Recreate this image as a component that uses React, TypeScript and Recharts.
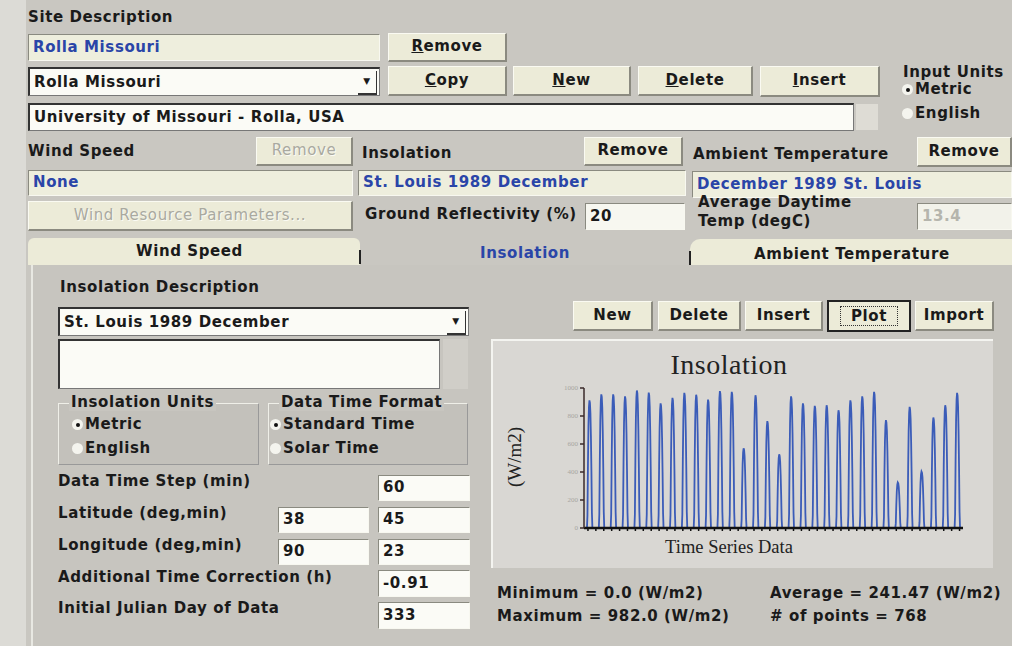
import React from "react";
import { LineChart, Line, XAxis, YAxis } from "recharts";

// daily peak insolation (W/m2), 32 days of December 1989
const dailyPeak = [
  912, 955, 955, 940, 982, 967, 890, 930, 965, 952, 917, 978, 972, 569, 948, 763,
  526, 940, 890, 872, 877, 841, 912, 940, 972, 770, 325, 865, 403, 789, 877, 965,
];
// typical hourly profile of one day (fraction of the day's peak), hours 0..23
const dayShape = [
  0, 0, 0, 0, 0, 0, 0, 0.1, 0.5, 0.8, 0.95, 1, 0.98, 0.9, 0.72, 0.45, 0.12, 0, 0,
  0, 0, 0, 0, 0,
];
const yTicks = [0, 200, 400, 600, 800, 1000];

const data = dailyPeak.flatMap((peak, d) =>
  dayShape.map((f, h) => ({ i: d * 24 + h, value: Math.round(peak * f) }))
);

const FONT = '"DejaVu Sans", Verdana, sans-serif';
const SERIF = '"Liberation Serif", "DejaVu Serif", serif';
const BG = "#c9c7c1";
const CREAM = "#ecebd8";
const FIELD = "#eeeedd";
const BLUE = "#2a45a8";

type Box = { x: number; y: number; w: number; h: number };

const txt: React.CSSProperties = {
  fontFamily: FONT,
  fontWeight: 700,
  fontSize: 15,
  letterSpacing: 0.6,
  whiteSpace: "nowrap",
  color: "#1a1a1a",
};

function Label({ x, y, children, color }: { x: number; y: number; children: React.ReactNode; color?: string }) {
  return <div style={{ ...txt, position: "absolute", left: x, top: y, color: color ?? "#1a1a1a" }}>{children}</div>;
}

function Field({ x, y, w, h, text, color, bg, dark, combo }: Box & { text?: string; color?: string; bg?: string; dark?: boolean; combo?: boolean }) {
  return (
    <div
      style={{
        ...txt,
        position: "absolute",
        left: x,
        top: y,
        width: w,
        height: h,
        boxSizing: "border-box",
        background: bg ?? FIELD,
        color: color ?? "#1a1a1a",
        borderTop: dark ? "2px solid #333" : "1px solid #8a8a80",
        borderLeft: dark ? "2px solid #333" : "1px solid #8a8a80",
        borderBottom: dark ? "1px solid #777" : "1px solid #f8f8f0",
        borderRight: dark ? "1px solid #777" : "1px solid #f8f8f0",
        paddingLeft: 4,
        lineHeight: `${h - 3}px`,
        overflow: "hidden",
      }}
    >
      {text}
      {combo && (
        <div
          style={{
            position: "absolute",
            right: 2,
            top: 2,
            width: 18,
            height: h - 7,
            borderBottom: "2px solid #333",
            borderRight: "1px solid #333",
            fontSize: 9,
            lineHeight: `${h - 8}px`,
            textAlign: "center",
          }}
        >
          ▼
        </div>
      )}
    </div>
  );
}

function Btn({ x, y, w, h, text, u, disabled, focus }: Box & { text: string; u?: boolean; disabled?: boolean; focus?: boolean }) {
  return (
    <div
      style={{
        ...txt,
        position: "absolute",
        left: x,
        top: y,
        width: w,
        height: h,
        boxSizing: "border-box",
        background: CREAM,
        borderTop: focus ? "2px solid #222" : "1px solid #fafaf2",
        borderLeft: focus ? "2px solid #222" : "1px solid #fafaf2",
        borderBottom: focus ? "2px solid #222" : "2px solid #8b8a80",
        borderRight: focus ? "2px solid #222" : "2px solid #8b8a80",
        textAlign: "center",
        lineHeight: `${h - 4}px`,
        color: disabled ? "#a9a9a0" : "#1a1a1a",
        fontWeight: disabled ? 400 : 700,
        textShadow: disabled ? "1px 1px 0 #fbfbf4" : undefined,
      }}
    >
      {focus ? (
        <span style={{ border: "1px dotted #333", padding: "0 10px" }}>{text}</span>
      ) : u ? (
        <>
          <span style={{ textDecoration: "underline" }}>{text[0]}</span>
          {text.slice(1)}
        </>
      ) : (
        text
      )}
    </div>
  );
}

function Radio({ x, y, text, on }: { x: number; y: number; text: string; on?: boolean }) {
  return (
    <div style={{ ...txt, position: "absolute", left: x, top: y }}>
      <span
        style={{
          display: "inline-block",
          width: 11,
          height: 11,
          borderRadius: 6,
          background: "#f4f4ee",
          marginRight: 2,
          verticalAlign: -1,
          position: "relative",
        }}
      >
        {on && (
          <span
            style={{ position: "absolute", left: 3.5, top: 3.5, width: 4, height: 4, borderRadius: 2, background: "#111" }}
          />
        )}
      </span>
      {text}
    </div>
  );
}

function Group({ x, y, w, h, title }: Box & { title: string }) {
  return (
    <div
      style={{
        position: "absolute",
        left: x,
        top: y,
        width: w,
        height: h,
        boxSizing: "border-box",
        borderTop: "1px solid #efefe8",
        borderLeft: "1px solid #efefe8",
        borderBottom: "1px solid #999",
        borderRight: "1px solid #999",
        background: "#c3c1bb",
      }}
    >
      <div style={{ ...txt, position: "absolute", left: 10, top: -11, background: "#c7c5bf", padding: "0 2px" }}>{title}</div>
    </div>
  );
}

function InsolationChart() {
  return (
    <div
      style={{
        position: "absolute",
        left: 491,
        top: 339,
        width: 502,
        height: 229,
        background: "#d9d7d3",
        borderTop: "2px solid #f4f4f0",
        borderLeft: "2px solid #f4f4f0",
        boxSizing: "border-box",
      }}
    >
      <div
        style={{
          position: "absolute",
          left: 0,
          width: 472,
          top: 8,
          textAlign: "center",
          fontFamily: SERIF,
          fontSize: 28,
          letterSpacing: 0.5,
          color: "#222",
        }}
      >
        Insolation
      </div>
      <div
        style={{
          position: "absolute",
          left: 22,
          top: 116,
          transform: "translate(-50%, -50%) rotate(-90deg)",
          fontFamily: SERIF,
          fontSize: 19,
          color: "#222",
          whiteSpace: "nowrap",
        }}
      >
        (W/m2)
      </div>
      <div
        style={{
          position: "absolute",
          left: 0,
          width: 472,
          top: 196,
          textAlign: "center",
          fontFamily: SERIF,
          fontSize: 18.5,
          color: "#222",
        }}
      >
        Time Series Data
      </div>
      <LineChart
        width={500}
        height={227}
        data={data}
        margin={{ top: 47, right: 30, bottom: 36, left: 61 }}
        style={{ position: "absolute", left: 0, top: 0 }}
      >
        <XAxis
          dataKey="i"
          type="number"
          domain={[0, 767]}
          ticks={dailyPeak.flatMap((_, d) => [d * 24, d * 24 + 8, d * 24 + 16])}
          tickFormatter={() => ""}
          tickSize={3}
          height={4}
          axisLine={{ stroke: "#111", strokeWidth: 2.5 }}
          tickLine={{ stroke: "#111", strokeWidth: 1.5 }}
        />
        <YAxis
          domain={[0, 1000]}
          ticks={yTicks}
          width={30}
          tickSize={4}
          axisLine={{ stroke: "#3a2a2a", strokeWidth: 1.5 }}
          tickLine={{ stroke: "#3a2a2a", strokeWidth: 1.5 }}
          tick={{ fontSize: 7, fill: "#a8a6a2", fontFamily: SERIF }}
        />
        <Line
          dataKey="value"
          type="linear"
          stroke="#3b5cb8"
          strokeWidth={1.8}
          dot={false}
          isAnimationActive={false}
        />
      </LineChart>
    </div>
  );
}

export default function App() {
  return (
    <div
      style={{
        position: "absolute",
        left: 0,
        top: 0,
        width: 1012,
        height: 646,
        background: BG,
        overflow: "hidden",
      }}
    >
      {/* window frame strip */}
      <div style={{ position: "absolute", left: 0, top: 0, width: 26, height: 646, background: "#dcdbd6" }} />

      <Label x={28} y={8}>Site Description</Label>
      <Field x={28} y={34} w={352} h={27} text="Rolla Missouri" color={BLUE} />
      <Btn x={388} y={33} w={119} h={29} text="Remove" u />

      <Field x={28} y={67} w={352} h={29} text="Rolla Missouri" bg="#fbfbf6" dark combo />
      <Btn x={388} y={66} w={119} h={30} text="Copy" u />
      <Btn x={513} y={66} w={118} h={30} text="New" u />
      <Btn x={638} y={66} w={115} h={30} text="Delete" u />
      <Btn x={760} y={66} w={120} h={31} text="Insert" u />
      <Label x={903} y={63}>Input Units</Label>
      <Radio x={902} y={80} text="Metric" on />
      <Radio x={902} y={104} text="English" />

      <Field x={28} y={103} w={826} h={28} text="University of Missouri - Rolla, USA" bg="#fbfbf6" dark />
      <div style={{ position: "absolute", left: 856, top: 104, width: 22, height: 26, background: "#dedcd5" }} />

      <Label x={28} y={142}>Wind Speed</Label>
      <Btn x={256} y={137} w={97} h={29} text="Remove" disabled />
      <Label x={362} y={144}>Insolation</Label>
      <Btn x={584} y={137} w={99} h={29} text="Remove" />
      <Label x={693} y={145}>Ambient Temperature</Label>
      <Btn x={917} y={137} w={95} h={30} text="Remove" />

      <Field x={28} y={170} w={325} h={26} text="None" color={BLUE} />
      <Field x={358} y={170} w={328} h={26} text="St. Louis 1989 December" color={BLUE} />
      <Field x={692} y={171} w={320} h={27} text="December 1989 St. Louis" color={BLUE} />

      <Btn x={28} y={201} w={325} h={30} text="Wind Resource Parameters..." disabled />
      <Label x={365} y={205}>Ground Reflectivity (%)</Label>
      <Field x={585} y={203} w={100} h={27} text="20" bg="#f7f7f0" />
      <Label x={698} y={193}>Average Daytime</Label>
      <Label x={698} y={212}>Temp (degC)</Label>
      <Field x={917} y={203} w={95} h={27} text="13.4" bg="#f2f2ea" color="#b5b5ad" />

      {/* tabs */}
      <div
        style={{
          position: "absolute",
          left: 28,
          top: 238,
          width: 332,
          height: 27,
          background: CREAM,
          borderTopLeftRadius: 6,
          borderTopRightRadius: 6,
        }}
      />
      <div
        style={{
          position: "absolute",
          left: 690,
          top: 239,
          width: 322,
          height: 26,
          background: CREAM,
          borderTopLeftRadius: 10,
        }}
      />
      <Label x={136} y={242}>Wind Speed</Label>
      <Label x={480} y={244} color={BLUE}>Insolation</Label>
      <Label x={754} y={245}>Ambient Temperature</Label>
      <div style={{ position: "absolute", left: 359, top: 250, width: 2, height: 14, background: "#222" }} />
      <div style={{ position: "absolute", left: 689, top: 251, width: 2, height: 14, background: "#222" }} />

      {/* insolation panel */}
      <div
        style={{
          position: "absolute",
          left: 31,
          top: 265,
          width: 981,
          height: 381,
          background: "#c7c5bf",
          borderLeft: "2px solid #e8e8e2",
          boxSizing: "border-box",
        }}
      />
      <Label x={60} y={278}>Insolation Description</Label>
      <Field x={58} y={307} w={411} h={29} text="St. Louis 1989 December" bg="#fbfbf6" dark combo />
      <Field x={58} y={339} w={382} h={50} bg="#fbfbf6" dark />
      <div style={{ position: "absolute", left: 443, top: 339, width: 25, height: 50, background: "#d0cec8" }} />

      <Group x={58} y={403} w={201} h={62} title="Insolation Units" />
      <Radio x={72} y={415} text="Metric" on />
      <Radio x={72} y={439} text="English" />
      <Group x={268} y={403} w={200} h={62} title="Data Time Format" />
      <Radio x={270} y={415} text="Standard Time" on />
      <Radio x={270} y={439} text="Solar Time" />

      <Label x={58} y={472}>Data Time Step (min)</Label>
      <Field x={378} y={475} w={92} h={26} text="60" bg="#fbfbf6" />
      <Label x={58} y={504}>Latitude (deg,min)</Label>
      <Field x={278} y={507} w={91} h={26} text="38" bg="#fbfbf6" />
      <Field x={378} y={507} w={92} h={26} text="45" bg="#fbfbf6" />
      <Label x={58} y={536}>Longitude (deg,min)</Label>
      <Field x={278} y={539} w={91} h={26} text="90" bg="#fbfbf6" />
      <Field x={378} y={539} w={92} h={26} text="23" bg="#fbfbf6" />
      <Label x={58} y={568}>Additional Time Correction (h)</Label>
      <Field x={378} y={570} w={92} h={27} text="-0.91" bg="#fbfbf6" />
      <Label x={58} y={599}>Initial Julian Day of Data</Label>
      <Field x={378} y={602} w={92} h={27} text="333" bg="#fbfbf6" />

      <Btn x={573} y={301} w={80} h={30} text="New" />
      <Btn x={658} y={301} w={83} h={30} text="Delete" />
      <Btn x={745} y={301} w={78} h={30} text="Insert" />
      <Btn x={827} y={300} w={84} h={32} text="Plot" focus />
      <Btn x={915} y={301} w={79} h={30} text="Import" />

      <InsolationChart />

      <Label x={497} y={584}>Minimum = 0.0 (W/m2)</Label>
      <Label x={770} y={584}>Average = 241.47 (W/m2)</Label>
      <Label x={497} y={607}>Maximum = 982.0 (W/m2)</Label>
      <Label x={770} y={607}># of points = 768</Label>
    </div>
  );
}
